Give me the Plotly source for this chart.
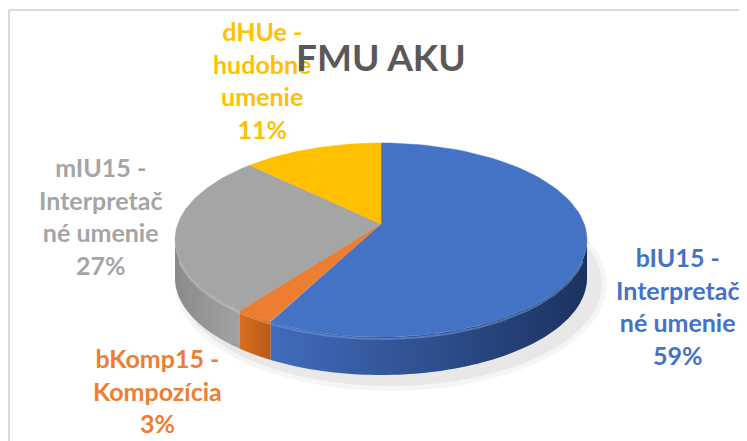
import numpy as np
import plotly.graph_objects as go

# --- data ---
categories = ["bIU15 - Interpretačné umenie", "bKomp15 - Kompozícia",
              "mIU15 - Interpretačné umenie", "dHUe - hudobné umenie"]
label_text = ["bIU15 -<br>Interpretač<br>né umenie", "bKomp15 -<br>Kompozícia",
              "mIU15 -<br>Interpretač<br>né umenie", "dHUe -<br>hudobné<br>umenie"]
values = [59, 3, 27, 11]
title = "FMU AKU"

# --- style ---
top_colors = ["#4472C4", "#ED7D31", "#A5A5A5", "#FFC000"]
side_colors = [("#416cbc", "#1b3260"), ("#d96f22", "#b85a18"),
               ("#8a8a8a", "#a3a3a3"), ("#d9a300", "#d9a300")]
rim_colors = ["#6f95d8", "#f39a5c", "#c4c4c4", "#ffd24d"]
label_pos = [(677, 306), (157, 390), (100, 216), (262, 80)]

W, H = 747, 441
OFF = 8  # page body margin, so data units == screen pixels
cx, cy, rx, ry, depth = 381, 240, 206, 97, 38
apex = (cx, cy - 16)


def rim(t0, t1, dy=0.0, n=80):
    t = np.linspace(t0, t1, n)
    return cx + rx * np.sin(t), cy - ry * np.cos(t) + dy


fig = go.Figure()

# soft shadow
for k, a in [(10, 0.04), (5, 0.05)]:
    t = np.linspace(0, 2 * np.pi, 200)
    fig.add_trace(go.Scatter(x=cx + 10 + (rx + k) * np.sin(t), y=cy + depth + 6 - (ry + k) * np.cos(t),
                             fill="toself", fillcolor=f"rgba(0,0,0,{a})", mode="none",
                             hoverinfo="skip", showlegend=False))

total = sum(values)
bounds = np.concatenate([[0], np.cumsum(values)]) / total * 2 * np.pi

# side walls (front half only)
for i in range(len(values)):
    t0, t1 = max(bounds[i], np.pi / 2), min(bounds[i + 1], 3 * np.pi / 2)
    if t1 <= t0:
        continue
    xa, ya = rim(t0, t1)
    xb, yb = rim(t1, t0, depth)
    fig.add_trace(go.Scatter(x=np.r_[xa, xb], y=np.r_[ya, yb], fill="toself", mode="none",
                             fillgradient=dict(type="horizontal",
                                               colorscale=[[0, side_colors[i][0]], [1, side_colors[i][1]]]),
                             hoverinfo="skip", showlegend=False))

# top faces
for i in range(len(values)):
    xa, ya = rim(bounds[i], bounds[i + 1])
    fig.add_trace(go.Scatter(x=np.r_[apex[0], xa, apex[0]], y=np.r_[apex[1], ya, apex[1]],
                             fill="toself", fillcolor=top_colors[i], mode="lines",
                             line=dict(color=top_colors[i], width=0.5),
                             hoverinfo="skip", showlegend=False))

# bevel highlight on the front rim
for i in range(len(values)):
    t0, t1 = max(bounds[i], np.pi / 2 + 0.2), min(bounds[i + 1], 3 * np.pi / 2 - 0.2)
    if t1 <= t0:
        continue
    xa, ya = rim(t0, t1, 2)
    fig.add_trace(go.Scatter(x=xa, y=ya, mode="lines", line=dict(color=rim_colors[i], width=2),
                             opacity=0.6, hoverinfo="skip", showlegend=False))

# data labels
for i, v in enumerate(values):
    pct = round(v / total * 100)
    fig.add_annotation(x=label_pos[i][0], y=label_pos[i][1], text=f"{label_text[i]}<br>{pct}%",
                       showarrow=False, xanchor="center", yanchor="middle", align="center",
                       font=dict(family="Lato", size=25, color=top_colors[i], weight="bold"))

fig.add_annotation(x=381, y=56, text=title, showarrow=False, xanchor="center", yanchor="middle",
                   font=dict(family="Lato", size=37, color="#595959", weight="bold"))

# chart frame
fig.add_shape(type="line", x0=9, y0=10, x1=W + OFF, y1=10, line=dict(color="#d9d9d9", width=2))
fig.add_shape(type="line", x0=9, y0=10, x1=9, y1=H + OFF, line=dict(color="#d9d9d9", width=2))

fig.update_xaxes(range=[OFF, W + OFF], visible=False, fixedrange=True)
fig.update_yaxes(range=[H + OFF, OFF], visible=False, fixedrange=True)
fig.update_layout(width=W, height=H, margin=dict(l=0, r=0, t=0, b=0),
                  paper_bgcolor="white", plot_bgcolor="white", showlegend=False)

fig.write_html("out.html")
